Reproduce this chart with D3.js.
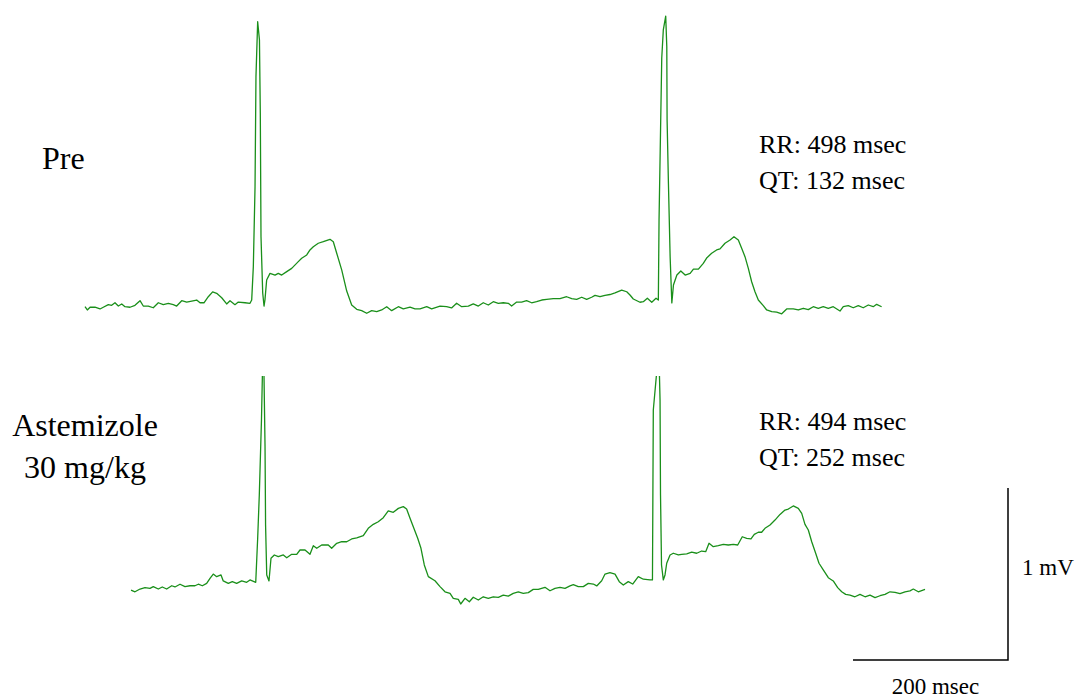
<!DOCTYPE html>
<html>
<head>
<meta charset="utf-8">
<script src="https://cdn.jsdelivr.net/npm/d3@7/dist/d3.min.js"></script>
<style>
  html, body { margin: 0; padding: 0; background: #fff; }
  svg { display: block; }
  text { font-family: "Liberation Serif", "Times New Roman", serif; fill: #000; }
</style>
</head>
<body>
<svg id="chart" width="1079" height="700"></svg>
<script>
// ECG lead traces: [time (ms), amplitude (mV)], baseline-referenced
const preTrace = [
  [0,-0.010],[3.0,-0.029],[6.5,-0.013],[12.9,-0.013],[19.4,-0.023],[23.6,-0.013],[30.1,0.002],[34.4,-0.002],
  [38.7,0.013],[43.0,-0.006],[47.4,0.006],[51.6,-0.010],[58.1,-0.013],[64.5,-0.002],[71.0,0.025],[75.2,-0.006],
  [81.7,-0.006],[88.1,-0.016],[94.6,0.013],[101.0,0.002],[107.5,0.010],[113.9,0.002],[118.3,-0.006],[124.8,0.025],
  [131.2,0.017],[137.7,0.023],[144.1,0.029],[148.4,0.013],[153.5,0.013],[159.1,0.048],[164.7,0.076],[169.9,0.068],
  [176.4,0.042],[182.8,0.006],[187.1,0.025],[193.5,0.002],[197.8,0.017],[206.5,0.013],[212.9,0.010],[215.1,0.029],
  [217.2,0.223],[219.4,0.688],[220.6,1.327],[222.8,1.647],[225.1,1.541],[226.2,1.116],[227.1,0.397],[229.3,0.070],
  [231.0,-0.006],[232.2,0.029],[234.4,0.145],[238.7,0.184],[245.2,0.174],[249.4,0.184],[253.8,0.174],[260.3,0.194],
  [266.7,0.213],[275.2,0.252],[279.6,0.272],[286.1,0.291],[290.3,0.320],[294.6,0.339],[301.0,0.359],[307.5,0.368],
  [316.1,0.382],[320.4,0.368],[324.8,0.301],[331.3,0.203],[337.7,0.081],[344.1,0.000],[350.6,-0.025],[357.0,-0.033],
  [363.5,-0.048],[369.9,-0.033],[376.4,-0.039],[382.8,-0.029],[389.3,-0.010],[395.7,-0.033],[404.3,-0.010],[410.7,-0.022],
  [419.4,-0.013],[425.8,-0.022],[432.3,-0.022],[440.9,-0.010],[447.3,-0.022],[458.1,-0.006],[466.6,-0.010],[473.0,-0.017],
  [479.5,0.010],[486.1,-0.010],[494.6,-0.006],[501.0,0.006],[507.5,-0.006],[513.9,0.013],[520.4,0.000],[526.8,0.019],
  [533.3,0.010],[539.7,0.013],[546.2,0.010],[550.5,-0.006],[557.0,0.017],[563.4,0.017],[569.8,0.025],[576.3,0.013],
  [582.7,0.019],[589.3,0.029],[595.7,0.033],[604.3,0.037],[612.9,0.037],[621.5,0.048],[628.0,0.037],[634.4,0.033],
  [640.9,0.045],[647.3,0.033],[653.7,0.045],[658.1,0.056],[664.5,0.048],[671.0,0.056],[677.4,0.061],[683.9,0.070],
  [692.5,0.087],[699.0,0.077],[703.2,0.058],[707.5,0.035],[716.1,0.016],[720.4,0.019],[725.6,0.039],[731.3,0.016],
  [736.8,0.039],[739.8,0.029],[740.7,0.494],[744.2,1.436],[746.2,1.599],[749.3,1.680],[750.7,1.502],[751.1,1.076],
  [752.8,0.709],[755.0,0.281],[757.2,0.012],[759.3,0.116],[763.7,0.174],[768.8,0.198],[774.4,0.174],[780.8,0.184],
  [785.1,0.209],[791.5,0.209],[797.8,0.242],[802.5,0.275],[808.6,0.301],[815.0,0.320],[819.4,0.326],[825.8,0.359],
  [832.3,0.378],[837.4,0.397],[843.0,0.378],[847.3,0.330],[851.6,0.281],[855.9,0.213],[860.2,0.135],[864.5,0.077],
  [868.8,0.029],[875.2,-0.004],[879.6,-0.029],[886.1,-0.039],[892.5,-0.042],[899.0,-0.051],[905.4,-0.023],[913.9,-0.023],
  [920.4,-0.029],[926.8,-0.019],[933.3,-0.027],[939.7,-0.010],[946.2,-0.019],[952.6,-0.010],[959.1,-0.019],[965.5,-0.010],
  [974.2,-0.035],[978.4,-0.010],[984.9,-0.004],[991.3,-0.016],[997.8,-0.004],[1004.2,-0.016],[1010.7,0.000],[1017.1,-0.010],
  [1021.5,0.004],[1027.9,-0.010]
];

const astemizoleTrace = [
  [59.4,-0.012],[64.5,-0.022],[71.0,-0.006],[77.4,0.002],[83.9,-0.002],[88.1,0.008],[94.6,-0.006],[99.7,0.006],
  [105.4,-0.006],[111.9,0.013],[116.1,0.006],[122.6,0.022],[129.0,0.008],[135.5,0.013],[141.9,0.013],[146.2,0.022],
  [151.4,0.013],[157.0,0.027],[161.3,0.056],[165.5,0.081],[169.9,0.066],[175.5,0.076],[178.4,0.041],[184.9,0.027],
  [190.1,0.037],[195.7,0.027],[202.2,0.041],[208.6,0.033],[212.9,0.047],[220.3,0.033],[222.8,0.289],[224.9,0.541],
  [227.7,0.977],[230.1,1.500],[232.3,0.822],[233.0,0.366],[234.5,0.076],[237.4,0.041],[240.0,0.173],[244.3,0.192],
  [249.4,0.182],[255.9,0.192],[260.3,0.176],[266.7,0.196],[273.2,0.196],[277.4,0.221],[283.9,0.221],[290.3,0.196],
  [294.6,0.246],[299.0,0.231],[305.4,0.250],[313.9,0.250],[318.3,0.231],[324.8,0.260],[331.2,0.269],[337.7,0.269],
  [344.1,0.285],[350.6,0.292],[359.1,0.304],[365.5,0.347],[372.0,0.370],[378.4,0.385],[384.9,0.409],[391.3,0.448],
  [397.8,0.440],[404.3,0.463],[410.7,0.473],[415.0,0.459],[419.4,0.405],[423.6,0.356],[429.3,0.289],[433.5,0.231],
  [437.8,0.134],[443.0,0.066],[451.6,0.042],[458.1,0.008],[464.5,-0.022],[471.0,-0.031],[475.2,-0.060],[481.7,-0.066],
  [484.8,-0.093],[490.3,-0.060],[495.9,-0.080],[501.0,-0.054],[507.5,-0.070],[513.9,-0.051],[520.4,-0.060],[526.8,-0.051],
  [533.3,-0.054],[539.7,-0.041],[546.2,-0.047],[552.6,-0.031],[559.1,-0.023],[565.5,-0.031],[572.0,-0.027],[578.4,-0.008],
  [584.9,-0.008],[593.5,0.004],[600.0,-0.016],[606.4,-0.002],[612.9,0.004],[619.4,-0.002],[625.8,0.012],[630.1,0.019],
  [636.5,0.008],[643.0,0.008],[649.4,0.027],[655.9,0.023],[660.3,0.012],[666.7,0.042],[671.0,0.081],[677.4,0.089],
  [683.9,0.081],[689.4,0.037],[694.6,0.017],[701.0,0.037],[706.7,0.023],[713.9,0.066],[720.4,0.051],[729.0,0.047],
  [732.2,0.047],[733.3,1.035],[737.7,1.256],[739.8,1.500],[742.0,1.093],[742.6,0.541],[743.9,0.134],[746.2,0.047],
  [748.4,0.076],[750.6,0.144],[754.9,0.192],[759.1,0.202],[765.6,0.192],[769.9,0.196],[776.4,0.199],[782.8,0.208],
  [789.3,0.202],[795.7,0.215],[800.9,0.211],[805.2,0.260],[810.7,0.240],[817.2,0.246],[823.6,0.254],[830.1,0.250],
  [836.5,0.254],[842.2,0.250],[848.1,0.298],[853.8,0.289],[859.3,0.285],[863.6,0.312],[868.8,0.324],[873.1,0.324],
  [877.4,0.347],[883.9,0.366],[890.3,0.395],[896.8,0.428],[903.2,0.453],[907.5,0.459],[913.9,0.477],[920.4,0.463],
  [924.8,0.434],[929.0,0.370],[933.3,0.337],[937.7,0.269],[942.8,0.202],[947.1,0.144],[952.6,0.105],[959.1,0.060],
  [965.5,0.041],[971.2,0.002],[976.4,-0.022],[981.5,-0.037],[987.1,-0.041],[993.5,-0.051],[1000.0,-0.037],[1006.5,-0.051],
  [1012.9,-0.041],[1019.4,-0.056],[1025.8,-0.045],[1032.3,-0.037],[1038.7,-0.022],[1045.2,-0.025],[1051.6,-0.033],[1058.1,-0.022],
  [1064.5,-0.017],[1068.8,-0.006],[1075.2,-0.022],[1083.9,-0.008]
];

const groupLabels = [["Pre"], ["Astemizole", "30 mg/kg"]];
const intervalLabels = [
  ["RR: 498 msec", "QT: 132 msec"],
  ["RR: 494 msec", "QT: 252 msec"]
];
const scaleBarTime = 200;   // ms
const scaleBarVolt = 1;     // mV
const scaleBarLabels = ["200 msec", "1 mV"];

const svg = d3.select("#chart");
const traceColor = "#1a8f1a";

// shared time axis: 200 ms spans 155 px
const x = d3.scaleLinear().domain([0, scaleBarTime]).range([85, 240]);
// each trace has its own baseline; 1 mV spans 172 px
const yPre = d3.scaleLinear().domain([0, scaleBarVolt]).range([305, 133]);
const yAst = d3.scaleLinear().domain([0, scaleBarVolt]).range([588, 416]);

// lower strip is cut off just above its recording window
svg.append("defs").append("clipPath").attr("id", "astClip")
  .append("rect").attr("x", 0).attr("y", 376).attr("width", 1079).attr("height", 324);

const linePre = d3.line().x(d => x(d[0])).y(d => yPre(d[1]));
const lineAst = d3.line().x(d => x(d[0])).y(d => yAst(d[1]));

svg.append("path").datum(preTrace)
  .attr("d", linePre)
  .attr("fill", "none").attr("stroke", traceColor)
  .attr("stroke-width", 1.3).attr("stroke-linejoin", "round");

svg.append("path").datum(astemizoleTrace)
  .attr("clip-path", "url(#astClip)")
  .attr("d", lineAst)
  .attr("fill", "none").attr("stroke", traceColor)
  .attr("stroke-width", 1.3).attr("stroke-linejoin", "round");

// condition labels on the left
svg.append("text").attr("x", 42).attr("y", 169)
  .attr("font-size", 32).text(groupLabels[0][0]);
const astLabel = svg.append("text").attr("text-anchor", "middle").attr("font-size", 32);
astLabel.append("tspan").attr("x", 85).attr("y", 436).text(groupLabels[1][0]);
astLabel.append("tspan").attr("x", 85).attr("y", 478).text(groupLabels[1][1]);

// interval measurements
const intervalY = [[153, 189], [430, 466]];
intervalLabels.forEach((pair, i) => {
  pair.forEach((s, j) => {
    svg.append("text").attr("x", 759).attr("y", intervalY[i][j])
      .attr("font-size", 26).text(s);
  });
});

// calibration bar: 200 ms horizontal, 1 mV vertical
const barRight = 1008, barBottom = 660;
const barW = x(scaleBarTime) - x(0);
const barH = yAst(0) - yAst(scaleBarVolt);
svg.append("path")
  .attr("d", `M${barRight - barW},${barBottom}H${barRight}V${barBottom - barH}`)
  .attr("fill", "none").attr("stroke", "#000").attr("stroke-width", 1.5);

svg.append("text").attr("x", barRight - barW / 2 + 5).attr("y", 694)
  .attr("text-anchor", "middle").attr("font-size", 23).text(scaleBarLabels[0]);
svg.append("text").attr("x", 1022).attr("y", 575)
  .attr("font-size", 23).text(scaleBarLabels[1]);
</script>
</body>
</html>
